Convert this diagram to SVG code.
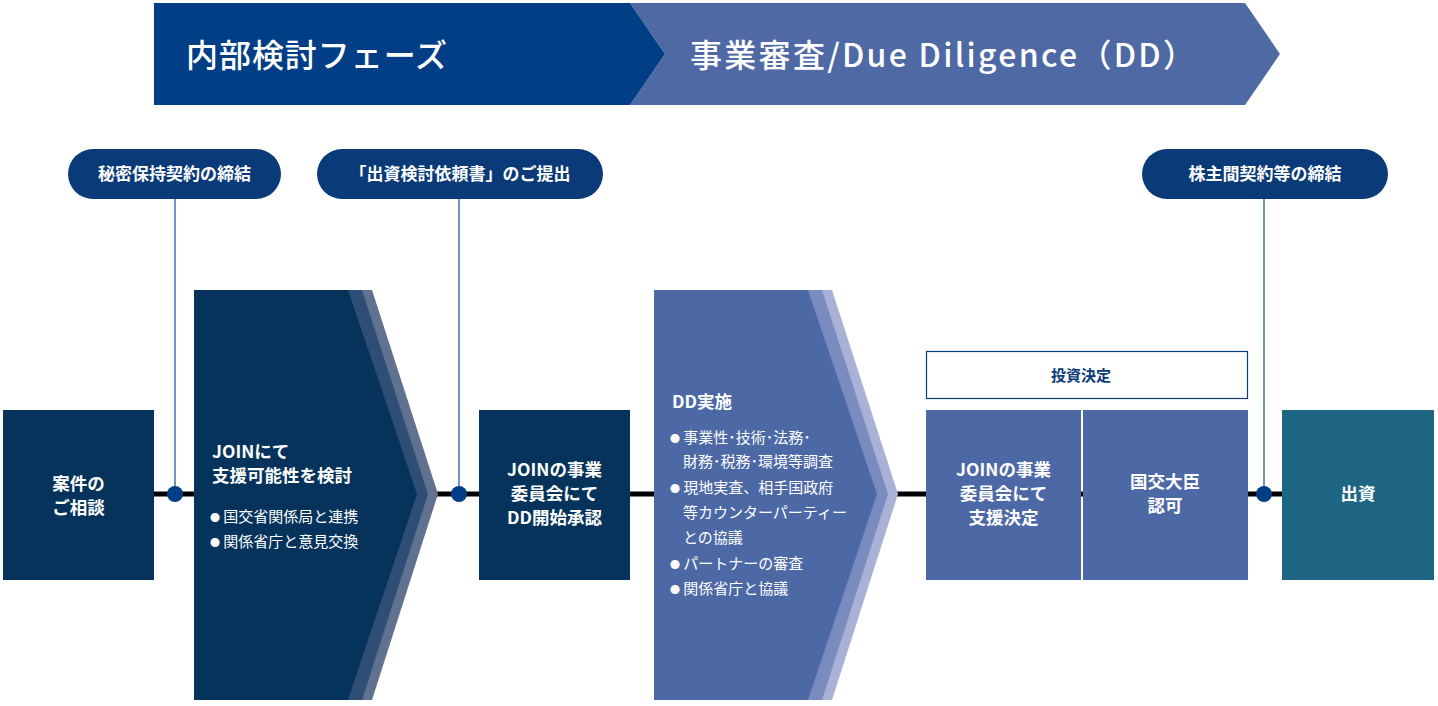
<svg xmlns="http://www.w3.org/2000/svg" width="1438" height="706" viewBox="0 0 1438 706">
<style>
text{font-family:"Noto Sans CJK JP","Liberation Sans",sans-serif;fill:#fff;font-weight:bold}
.pill{fill:#0a3a78}
.pt{font-size:17px;text-anchor:middle}
.bt{font-size:17.5px;text-anchor:middle}
.li{font-size:15px;font-weight:normal}
.b{font-size:10px}
.navy{fill:#06335b}
.mid{fill:#4d69a5}
</style>
<rect width="1438" height="706" fill="#fff"/>
<g id="banner">
<polygon points="630,3 1245,3 1280,54 1245,105 630,105 665,54" fill="#4f69a5"/>
<polygon points="154,3 630,3 665,54 630,105 154,105" fill="#023e86"/>
<text x="186" y="67" font-size="32" textLength="261" style="font-weight:500">内部検討フェーズ</text>
<text x="690" y="67" font-size="32" textLength="505" style="font-weight:500">事業審査/Due Diligence（DD）</text>
</g>
<g id="connectors">
<line x1="154" y1="494" x2="1282" y2="494" stroke="#000" stroke-width="5"/>
<g stroke="#2a5aa0" stroke-width="1.3">
<line x1="175" y1="198" x2="175" y2="494"/>
<line x1="459" y1="198" x2="459" y2="494"/>
<line x1="1264" y1="198" x2="1264" y2="494"/>
</g>
<g fill="#023e86">
<circle cx="175" cy="494" r="8"/>
<circle cx="459" cy="494" r="8"/>
<circle cx="1264" cy="494" r="8"/>
</g>
</g>
<g id="pill1"><rect class="pill" x="68" y="149" width="213" height="50" rx="25"/><text class="pt" x="174.5" y="180">秘密保持契約の締結</text></g>
<g id="pill2"><rect class="pill" x="317" y="149" width="286" height="50" rx="25"/><text class="pt" x="460" y="180">「出資検討依頼書」のご提出</text></g>
<g id="pill3"><rect class="pill" x="1142" y="149" width="246" height="50" rx="25"/><text class="pt" x="1265" y="180">株主間契約等の締結</text></g>
<g id="n1"><rect class="navy" x="3" y="410" width="151" height="170"/><text class="bt" x="78.5" y="490">案件の</text><text class="bt" x="78.5" y="514">ご相談</text></g>
<g id="n2">
<polygon points="194,290 372,290 438,494 372,700 194,700" fill="#607290"/>
<polygon points="194,290 362,290 428,494 362,700 194,700" fill="#2f4e76"/>
<polygon points="194,290 348,290 417,494 348,700 194,700" class="navy"/>
<text x="212" y="458" font-size="17.5">JOINにて</text>
<text x="212" y="482" font-size="17.5">支援可能性を検討</text>
<text class="li" x="210" y="522"><tspan class="b">●</tspan> 国交省関係局と連携</text>
<text class="li" x="210" y="547"><tspan class="b">●</tspan> 関係省庁と意見交換</text>
</g>
<g id="n3"><rect class="navy" x="479" y="410" width="151" height="170"/><text class="bt" x="554.5" y="476">JOINの事業</text><text class="bt" x="554.5" y="500">委員会にて</text><text class="bt" x="554.5" y="524">DD開始承認</text></g>
<g id="n4">
<polygon points="654,290 832,290 898,494 832,700 654,700" fill="#a9b2d6"/>
<polygon points="654,290 822,290 888,494 822,700 654,700" fill="#7a8bbf"/>
<polygon points="654,290 808,290 877,494 808,700 654,700" class="mid"/>
<text x="672" y="408" font-size="17.5">DD実施</text>
<text class="li" x="670" y="443"><tspan class="b">●</tspan> 事業性･技術･法務･</text>
<text class="li" x="683" y="467">財務･税務･環境等調査</text>
<text class="li" x="670" y="493"><tspan class="b">●</tspan> 現地実査、相手国政府</text>
<text class="li" x="683" y="518">等カウンターパーティー</text>
<text class="li" x="683" y="543">との協議</text>
<text class="li" x="670" y="569"><tspan class="b">●</tspan> パートナーの審査</text>
<text class="li" x="670" y="594"><tspan class="b">●</tspan> 関係省庁と協議</text>
</g>
<g id="n5"><rect x="926.5" y="351.5" width="321" height="47" fill="#fff" stroke="#0a3a78" stroke-width="1.2"/><text x="1081" y="381" style="fill:#0a3a78;font-size:15px;text-anchor:middle">投資決定</text></g>
<g id="n6"><rect class="mid" x="926" y="410" width="155" height="170"/><text class="bt" x="1003.5" y="476">JOINの事業</text><text class="bt" x="1003.5" y="500">委員会にて</text><text class="bt" x="1003.5" y="524">支援決定</text></g>
<g id="n7"><rect class="mid" x="1083" y="410" width="165" height="170"/><text class="bt" x="1165" y="488">国交大臣</text><text class="bt" x="1165" y="512">認可</text></g>
<g id="n8"><rect x="1282" y="410" width="152" height="170" fill="#1f6685"/><text class="bt" x="1358" y="500">出資</text></g>
</svg>
